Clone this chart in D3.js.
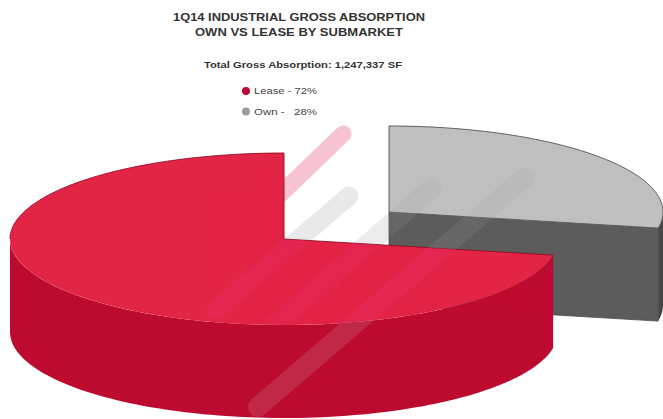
<!DOCTYPE html>
<html>
<head>
<meta charset="utf-8">
<script src="https://cdn.jsdelivr.net/npm/d3@7/dist/d3.min.js"></script>
<style>
html,body{margin:0;padding:0;background:#fff}
svg{display:block}
text{font-family:"Liberation Sans",Arial,sans-serif;font-weight:bold;fill:#333}
</style>
</head>
<body>
<svg id="chart" width="663" height="419"></svg>
<script>
const categories = ["Own", "Lease"];
const shares = [28, 72];
const legendLabels = ["Lease - 72%", "Own -   28%"];
const titleLines = ["1Q14 INDUSTRIAL GROSS ABSORPTION", "OWN VS LEASE BY SUBMARKET"];
const subtitle = "Total Gross Absorption: 1,247,337 SF";

const topColors = {Own: "#bfbfbf", Lease: "#e32545"};
const wallColors = {Own: "#5c5c5c", Lease: "#bd0b30"};
const legendColors = ["#bd0b3c", "#9c9c9c"];

const svg = d3.select("#chart");
const defs = svg.append("defs");
const rx = 274, ry = 86, depth = 93;
const centers = {Own: [389, 212], Lease: [284, 239]};

const slices = d3.pie().sort(null).value(d => d.share)(
  categories.map((name, i) => ({name, share: shares[i]}))
);
const byName = Object.fromEntries(slices.map(s => [s.data.name, s]));
const own = byName.Own, lease = byName.Lease;

// Project a pie angle (clockwise from 12 o'clock) onto the tilted disc.
const px = a => rx * Math.sin(a);
const py = a => -ry * Math.cos(a);
const sweep = (a0, a1, n = 100) => d3.range(0, n + 1).map(i => a0 + (a1 - a0) * i / n);
const rimLine = d3.line().x(a => px(a)).y(a => py(a));

function topPath(s) {
  return "M0,0L" + rimLine(sweep(s.startAngle, s.endAngle)).slice(1) + "Z";
}
// Outer rim wall between two angles, extruded downward.
function rimPath(a0, a1) {
  const steps = sweep(a0, a1);
  const pts = steps.map(a => [px(a), py(a)])
    .concat(steps.slice().reverse().map(a => [px(a), py(a) + depth]));
  return d3.line()(pts) + "Z";
}
const ownCutFace = d3.line()([[0, 0], [px(own.endAngle), py(own.endAngle)],
  [px(own.endAngle), py(own.endAngle) + depth], [0, depth]]) + "Z";

// Faint diagonal ribbons: drawn once on the paper, then re-tinted per surface.
const ribbons = [
  {from: [343, 134], to: [262, 212], w: 17, paper: "#f7c3d0", ownTop: 0, ownWall: 0, leaseTop: 0, leaseWall: 0},
  {from: [349, 196], to: [216, 310], w: 19, paper: "#e9e9e9", ownTop: 0, ownWall: 0, leaseTop: 0.3, leaseWall: 0},
  {from: [432, 188], to: [275, 325], w: 20, paper: "#ececec", ownTop: 0.3, ownWall: 0.4, leaseTop: 0.3, leaseWall: 0},
  {from: [524, 178], to: [258, 407], w: 20, paper: "#ffffff", ownTop: 0.3, ownWall: 0.4, leaseTop: 0.3, leaseWall: 0.8}
];
const surfaceTints = {ownTop: "#b0b0b0", ownWall: "#777777", leaseTop: "#e8306a", leaseWall: "#c2304f"};

const ribbonGroup = (parent, colorOf, opacityOf) => parent.selectAll("line").data(ribbons).join("line")
  .attr("x1", d => d.from[0]).attr("y1", d => d.from[1])
  .attr("x2", d => d.to[0]).attr("y2", d => d.to[1])
  .attr("stroke", colorOf).attr("stroke-width", d => d.w)
  .attr("stroke-linecap", "round").attr("opacity", opacityOf);

// Ribbons on bare paper sit beneath the pie.
ribbonGroup(svg.append("g"), d => d.paper, 1);

const gOwn = svg.append("g").attr("transform", `translate(${centers.Own})`);
const gLease = svg.append("g").attr("transform", `translate(${centers.Lease})`);

// Own slice: top, cut face toward the viewer, and the sliver of rim on the right.
gOwn.append("path").attr("d", ownCutFace)
  .attr("fill", wallColors.Own).attr("stroke", "#4a4a4a").attr("stroke-width", 0.8);
gOwn.append("path").attr("d", rimPath(Math.PI / 2, own.endAngle)).attr("fill", "#474747");
gOwn.append("path").attr("d", topPath(own))
  .attr("fill", topColors.Own).attr("stroke", "#606060").attr("stroke-width", 1);

// Lease slice: rim first, top face over it, dark outline only on the far edges.
gLease.append("path").attr("d", rimPath(lease.startAngle, 3 * Math.PI / 2))
  .attr("fill", wallColors.Lease);
gLease.append("path").attr("d", topPath(lease)).attr("fill", topColors.Lease);
gLease.append("path")
  .attr("d", "M" + px(lease.startAngle) + "," + py(lease.startAngle) + "L0,0L" +
    rimLine(sweep(2 * Math.PI, 3 * Math.PI / 2)).slice(1))
  .attr("fill", "none").attr("stroke", "#8e1028").attr("stroke-width", 0.9);

// Ribbon tints, each confined to one surface of the pie.
const surfaces = [
  {key: "ownTop", at: "Own", d: topPath(own)},
  {key: "ownWall", at: "Own", d: ownCutFace},
  {key: "leaseTop", at: "Lease", d: topPath(lease)},
  {key: "leaseWall", at: "Lease", d: rimPath(lease.startAngle, 3 * Math.PI / 2)}
];
surfaces.forEach(s => {
  defs.append("clipPath").attr("id", "clip-" + s.key).append("path")
    .attr("transform", `translate(${centers[s.at]})`).attr("d", s.d);
});
// Lease sits in front of Own, so Own's tints stop at the Lease outline.
defs.append("clipPath").attr("id", "clip-noLease").append("path")
  .attr("clip-rule", "evenodd")
  .attr("d", "M0,0H663V419H0Z M" + centers.Lease + "L" +
    sweep(lease.startAngle, lease.endAngle)
      .map(a => [centers.Lease[0] + px(a), centers.Lease[1] + py(a)]).join("L") + "Z");
surfaces.forEach(s => {
  let host = svg.append("g").attr("clip-path", `url(#clip-${s.key})`);
  if (s.at === "Own") host = host.append("g").attr("clip-path", "url(#clip-noLease)");
  ribbonGroup(host, () => surfaceTints[s.key], d => d[s.key]);
});

// Headings
const headingSpans = [252, 208];
svg.append("g").selectAll("text").data(titleLines).join("text")
  .attr("x", 299).attr("y", (d, i) => 21 + i * 15)
  .attr("text-anchor", "middle").attr("font-size", 10.5)
  .attr("textLength", (d, i) => headingSpans[i]).attr("lengthAdjust", "spacingAndGlyphs")
  .text(d => d);
svg.append("text").attr("x", 303).attr("y", 68)
  .attr("text-anchor", "middle").attr("font-size", 9.5)
  .attr("textLength", 198).attr("lengthAdjust", "spacingAndGlyphs")
  .text(subtitle);

// Legend
const legendY = d3.scalePoint().domain(legendLabels).range([91, 111.5]);
const legend = svg.append("g").selectAll("g").data(legendLabels).join("g")
  .attr("transform", d => `translate(246,${legendY(d)})`);
legend.append("circle").attr("r", 4).attr("fill", (d, i) => legendColors[i]);
legend.append("text").attr("x", 8).attr("y", 3).attr("font-size", 9)
  .style("font-weight", "normal").style("fill", "#444").style("white-space", "pre")
  .attr("textLength", 63).attr("lengthAdjust", "spacingAndGlyphs")
  .text(d => d);
</script>
</body>
</html>
